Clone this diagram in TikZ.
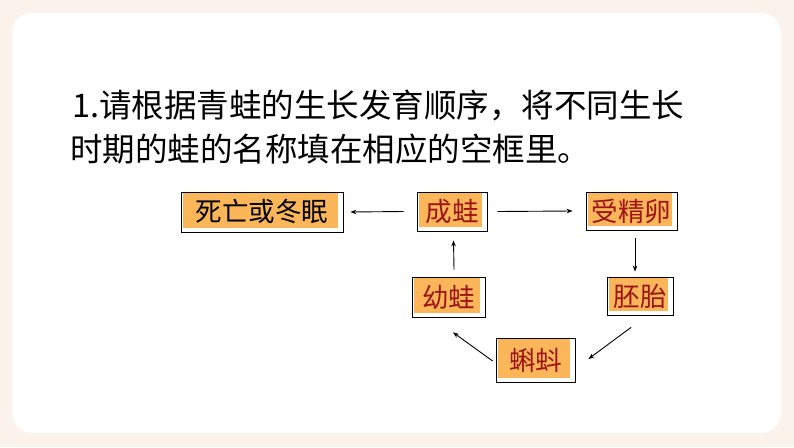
\documentclass[tikz,border=0pt]{standalone}
\usepackage{fontspec}
\newfontfamily\cjk{Noto Sans CJK SC}
\usetikzlibrary{arrows.meta}
\definecolor{pagebg}{RGB}{251,242,236}
\definecolor{boxorange}{RGB}{250,182,88}
\definecolor{darkredtext}{RGB}{158,20,22}
\tikzset{
  stagebox/.style={draw=black, line width=0.8pt, fill=white, inner sep=0pt,
    font=\cjk\fontsize{26.5}{30}\selectfont, text=darkredtext,
    path picture={\fill[boxorange] ([xshift=2pt,yshift=-1pt]path picture bounding box.north west) rectangle ([xshift=-5pt,yshift=4pt]path picture bounding box.south east);}},
  flow/.style={line width=0.9pt, -{Stealth[length=6pt,width=4.5pt]}},
  titletext/.style={anchor=base west, inner sep=0pt, font=\cjk\fontsize{32.5}{40}\selectfont, text=black}
}
\begin{document}
\begin{tikzpicture}[x=1pt,y=-1pt]
\useasboundingbox (0,0) rectangle (794,447);
\fill[pagebg] (0,0) rectangle (794,447);
\fill[white, rounded corners=20pt] (12,13) rectangle (781,433);
\node[titletext] (t1) at (72,117.5) {1.请根据青蛙的生长发育顺序，将不同生长};
\node[titletext] (t2) at (70,161.5) {时期的蛙的名称填在相应的空框里。};
\node[stagebox, text=black, minimum width=162pt, minimum height=40pt] (die) at (262,212) {死亡或冬眠};
\node[stagebox, minimum width=70pt, minimum height=39pt] (adult) at (452,211.5) {成蛙};
\node[stagebox, minimum width=91pt, minimum height=38pt] (egg) at (631.5,211) {受精卵};
\node[stagebox, minimum width=73pt, minimum height=40pt] (young) at (448.5,297) {幼蛙};
\node[stagebox, minimum width=66pt, minimum height=38pt] (embryo) at (640,296) {胚胎};
\node[stagebox, minimum width=79pt, minimum height=44pt] (tadpole) at (535.5,360) {蝌蚪};
\draw[flow] ([xshift=-13pt]adult.west) -- ([xshift=7pt]die.east);
\draw[flow] ([xshift=10pt]adult.east) -- ([xshift=-13pt]egg.west);
\draw[flow] ([xshift=3.5pt,yshift=-8pt]egg.south) -- ([xshift=-5pt,yshift=5pt]embryo.north);
\draw[flow] ([xshift=5.5pt,yshift=7pt]young.north) -- ([xshift=1.5pt,yshift=-9pt]adult.south);
\draw[flow] ([xshift=-9pt,yshift=-12pt]embryo.south) -- ([xshift=13pt,yshift=1pt]tadpole.east);
\draw[flow] ([xshift=-3pt,yshift=-1pt]tadpole.west) -- ([xshift=4.5pt,yshift=-15pt]young.south);
\end{tikzpicture}
\end{document}
